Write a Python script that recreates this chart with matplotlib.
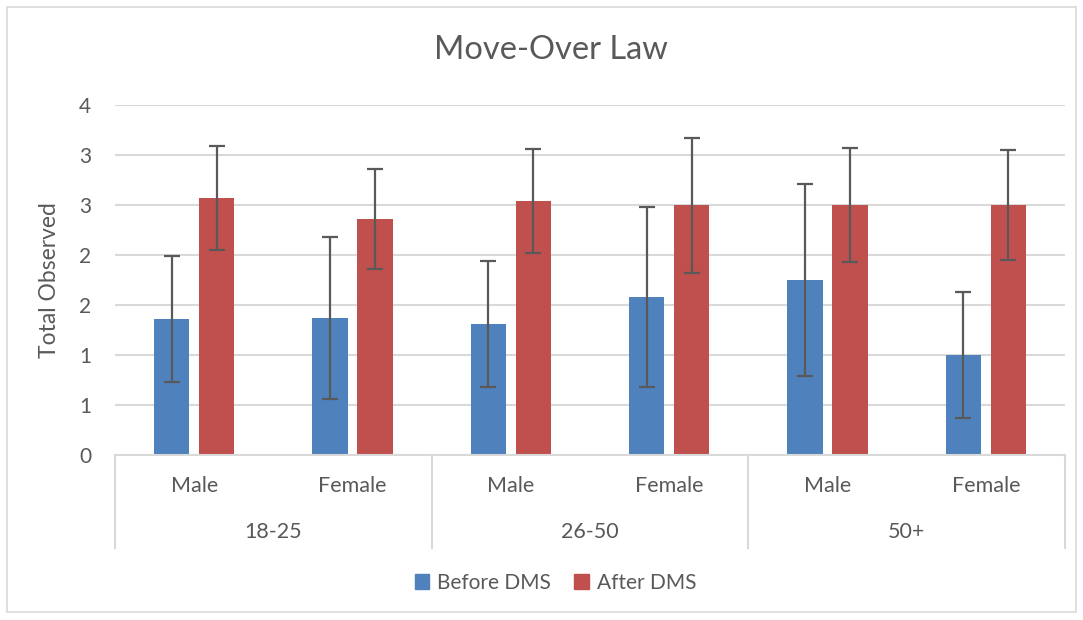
import matplotlib.pyplot as plt
from matplotlib.patches import Rectangle, Patch
import matplotlib.transforms as mtransforms

plt.rcParams['font.family'] = ['Lato', 'DejaVu Sans']

groups = ['18-25', '26-50', '50+']
sexes = ['Male', 'Female']
before = [1.36, 1.37, 1.31, 1.58, 1.75, 1.0]
before_err = [0.63, 0.81, 0.63, 0.90, 0.96, 0.63]
after = [2.57, 2.36, 2.54, 2.50, 2.50, 2.50]
after_err = [0.52, 0.50, 0.52, 0.675, 0.57, 0.55]
yticks = [0, 0.5, 1, 1.5, 2, 2.5, 3, 3.5]
ytick_labels = ['0', '1', '1', '2', '2', '3', '3', '4']

blue = '#4F81BD'
red = '#C0504D'
grey = '#595959'
grid = '#D9D9D9'

W, H = 1083, 620
fig = plt.figure(figsize=(W / 100, H / 100), dpi=100)
ax = fig.add_axes([115 / W, (H - 455) / H, 950 / W, 350 / H])

n = len(before)
xs = [i + 0.5 for i in range(n)]
ax.bar([x - 0.142 for x in xs], before, width=0.222, color=blue, zorder=2)
ax.bar([x + 0.142 for x in xs], after, width=0.222, color=red, zorder=2)
ax.errorbar([x - 0.142 for x in xs], before, yerr=before_err, fmt='none',
            ecolor=grey, elinewidth=1.6, capsize=6, capthick=1.6, zorder=3)
ax.errorbar([x + 0.142 for x in xs], after, yerr=after_err, fmt='none',
            ecolor=grey, elinewidth=1.6, capsize=6, capthick=1.6, zorder=3)

ax.set_xlim(0, n)
ax.set_ylim(0, 3.5)
ax.set_yticks(yticks)
ax.set_yticklabels(ytick_labels)
ax.tick_params(axis='y', length=0, pad=17, labelsize=15, labelcolor=grey)
ax.set_xticks([])
ax.grid(axis='y', color=grid, linewidth=1.5, zorder=0)
ax.set_axisbelow(True)
for s in ['left', 'right', 'top']:
    ax.spines[s].set_visible(False)
ax.spines['bottom'].set_color(grid)
ax.spines['bottom'].set_linewidth(1.5)

ax.set_ylabel('Total Observed', fontsize=16.5, color=grey)
ax.yaxis.set_label_coords(-0.058, 0.5)

# two-level category axis
trans = mtransforms.blended_transform_factory(ax.transData, ax.transAxes)
for g in range(len(groups) + 1):
    ax.plot([g * 2, g * 2], [0, -0.266], transform=trans, color=grid,
            linewidth=1.5, clip_on=False)
for i, x in enumerate(xs):
    ax.text(x, -0.089, sexes[i % 2], transform=trans, ha='center', va='center',
            fontsize=15.5, color=grey)
for g, name in enumerate(groups):
    ax.text(g * 2 + 1, -0.22, name, transform=trans, ha='center', va='center',
            fontsize=15.5, color=grey)

fig.text(551 / W, 1 - 50 / H, 'Move-Over Law', ha='center', va='center',
         fontsize=23.5, color=grey)

handles = [Patch(color=blue, label='Before DMS'), Patch(color=red, label='After DMS')]
leg = fig.legend(handles=handles, loc='center', bbox_to_anchor=(0.513, 1 - 583 / H),
                 ncol=2, frameon=False, fontsize=15, handlelength=0.7,
                 handleheight=0.7, handletextpad=0.4, columnspacing=1.1)
for t in leg.get_texts():
    t.set_color(grey)

fig.patches.append(Rectangle((7 / W, 8 / H), 1069 / W, 605 / H, transform=fig.transFigure,
                             fill=False, edgecolor=grid, linewidth=1.2))

fig.savefig('out.png', dpi=100)
